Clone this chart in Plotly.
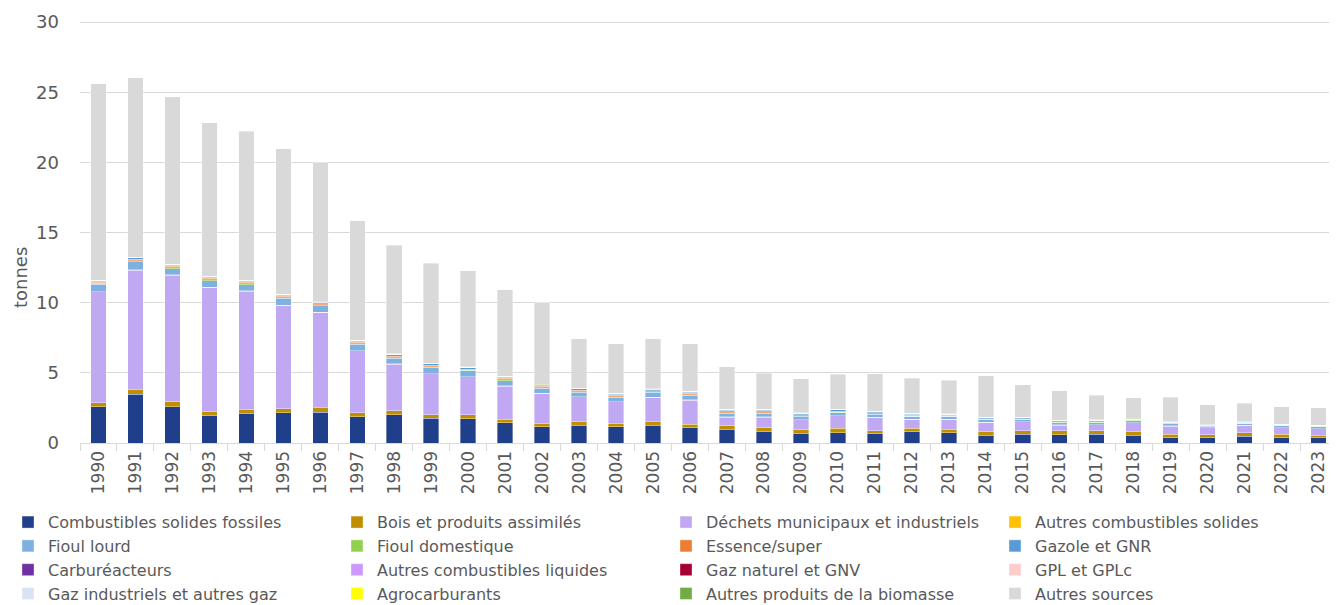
import plotly.graph_objects as go

# Emissions par source (tonnes), 1990-2023
years = [str(y) for y in range(1990, 2024)]

solides_fossiles = [2.59, 3.47, 2.59, 1.95, 2.09, 2.16, 2.19, 1.88, 2.00, 1.76, 1.73, 1.45, 1.16, 1.26, 1.16, 1.26, 1.09,
                    0.97, 0.81, 0.66, 0.73, 0.66, 0.81, 0.73, 0.57, 0.64, 0.59, 0.62, 0.55, 0.38, 0.38, 0.48, 0.38, 0.36]
bois = [0.28, 0.33, 0.36, 0.31, 0.28, 0.29, 0.35, 0.28, 0.30, 0.26, 0.27, 0.24, 0.24, 0.26, 0.24, 0.29, 0.24,
        0.26, 0.28, 0.27, 0.32, 0.22, 0.24, 0.25, 0.24, 0.24, 0.29, 0.26, 0.26, 0.26, 0.21, 0.25, 0.26, 0.21]
dechets = [7.91, 8.53, 9.02, 8.84, 8.46, 7.36, 6.77, 4.40, 3.33, 2.90, 2.73, 2.37, 2.14, 1.78, 1.54, 1.71, 1.73,
           0.62, 0.76, 0.71, 0.90, 0.95, 0.64, 0.71, 0.67, 0.62, 0.40, 0.42, 0.64, 0.57, 0.48, 0.53, 0.45, 0.45]
autres_solides = [0.01, 0.01, 0.01, 0.01, 0.01, 0.01, 0.01, 0.01, 0.01, 0.01, 0.01, 0.01, 0.01, 0.01, 0.01, 0.01, 0.01,
                  0.01, 0.01, 0.01, 0.01, 0.01, 0.01, 0.01, 0.01, 0.01, 0.01, 0.01, 0.01, 0.01, 0.0, 0.0, 0.0, 0.0]
fioul_lourd = [0.53, 0.59, 0.45, 0.47, 0.45, 0.48, 0.48, 0.47, 0.40, 0.48, 0.40, 0.38, 0.36, 0.31, 0.32, 0.33, 0.34,
               0.26, 0.26, 0.24, 0.21, 0.21, 0.19, 0.19, 0.16, 0.14, 0.17, 0.15, 0.14, 0.14, 0.14, 0.14, 0.14, 0.14]
fioul_dom = [0.05, 0.05, 0.05, 0.05, 0.05, 0.05, 0.04, 0.04, 0.05, 0.04, 0.04, 0.05, 0.04, 0.04, 0.04, 0.04, 0.04,
             0.04, 0.04, 0.04, 0.03, 0.03, 0.03, 0.03, 0.03, 0.03, 0.02, 0.03, 0.02, 0.02, 0.01, 0.02, 0.02, 0.02]
essence = [0.10, 0.12, 0.11, 0.11, 0.11, 0.10, 0.10, 0.09, 0.10, 0.09, 0.09, 0.10, 0.08, 0.09, 0.08, 0.08, 0.08,
           0.08, 0.08, 0.07, 0.07, 0.06, 0.06, 0.05, 0.05, 0.05, 0.04, 0.04, 0.03, 0.03, 0.02, 0.02, 0.02, 0.02]
gazole = [0.07, 0.09, 0.09, 0.09, 0.09, 0.09, 0.09, 0.09, 0.10, 0.10, 0.09, 0.10, 0.09, 0.10, 0.09, 0.09, 0.10,
          0.10, 0.10, 0.09, 0.09, 0.08, 0.08, 0.06, 0.06, 0.06, 0.06, 0.07, 0.05, 0.05, 0.03, 0.04, 0.04, 0.04]
carbureacteurs = [0.02, 0.02, 0.02, 0.02, 0.02, 0.02, 0.02, 0.02, 0.02, 0.02, 0.02, 0.02, 0.02, 0.02, 0.02, 0.02, 0.02,
                  0.02, 0.02, 0.02, 0.02, 0.02, 0.02, 0.01, 0.01, 0.01, 0.01, 0.01, 0.01, 0.01, 0.01, 0.01, 0.01, 0.01]
autres_liquides = [0.01, 0.01, 0.01, 0.01, 0.01, 0.01, 0.01, 0.01, 0.01, 0.01, 0.01, 0.01, 0.01, 0.01, 0.01, 0.01, 0.01,
                   0.01, 0.01, 0.01, 0.01, 0.01, 0.01, 0.01, 0.01, 0.01, 0.01, 0.01, 0.01, 0.01, 0.01, 0.01, 0.01, 0.01]
gaz_naturel = [0.01, 0.01, 0.01, 0.01, 0.01, 0.01, 0.01, 0.01, 0.01, 0.01, 0.01, 0.01, 0.01, 0.01, 0.01, 0.01, 0.01,
               0.01, 0.01, 0.01, 0.01, 0.01, 0.01, 0.01, 0.01, 0.01, 0.01, 0.01, 0.01, 0.01, 0.01, 0.01, 0.01, 0.01]
gpl = [0.005, 0.005, 0.005, 0.005, 0.005, 0.005, 0.005, 0.005, 0.005, 0.005, 0.005, 0.005, 0.005, 0.005, 0.005, 0.005, 0.005,
       0.005, 0.005, 0.005, 0.005, 0.005, 0.005, 0.005, 0.005, 0.005, 0.005, 0.005, 0.005, 0.005, 0.005, 0.005, 0.005, 0.005]
gaz_industriels = [0.005, 0.005, 0.005, 0.005, 0.005, 0.005, 0.005, 0.005, 0.005, 0.005, 0.005, 0.005, 0.005, 0.005, 0.005, 0.005, 0.005,
                   0.005, 0.005, 0.005, 0.005, 0.005, 0.005, 0.005, 0.005, 0.005, 0.005, 0.005, 0.005, 0.005, 0.005, 0.005, 0.005, 0.005]
agrocarburants = [0.0, 0.0, 0.0, 0.0, 0.0, 0.0, 0.0, 0.0, 0.0, 0.0, 0.0, 0.0, 0.0, 0.0, 0.0, 0.0, 0.0,
                  0.0, 0.0, 0.0, 0.0, 0.0, 0.0, 0.0, 0.0, 0.0, 0.0, 0.0, 0.0, 0.0, 0.0, 0.0, 0.0, 0.0]
autres_biomasse = [0.01, 0.01, 0.01, 0.01, 0.01, 0.01, 0.01, 0.01, 0.01, 0.01, 0.01, 0.01, 0.01, 0.01, 0.01, 0.01, 0.01,
                   0.01, 0.01, 0.01, 0.01, 0.01, 0.01, 0.01, 0.01, 0.01, 0.01, 0.01, 0.01, 0.01, 0.0, 0.0, 0.0, 0.0]
autres_sources = [14.00, 12.77, 11.94, 10.95, 10.63, 10.38, 9.90, 8.51, 7.76, 7.12, 6.86, 6.15, 5.85, 3.51, 3.54, 3.55, 3.39,
                  3.03, 2.58, 2.44, 2.48, 2.67, 2.49, 2.38, 2.97, 2.32, 2.08, 1.76, 1.47, 1.75, 1.40, 1.33, 1.25, 1.22]

series = [
    ("Combustibles solides fossiles", solides_fossiles, "#203F8A"),
    ("Bois et produits assimilés", bois, "#BF8F00"),
    ("Déchets municipaux et industriels", dechets, "#C0A9F2"),
    ("Autres combustibles solides", autres_solides, "#FFC000"),
    ("Fioul lourd", fioul_lourd, "#7EB0E0"),
    ("Fioul domestique", fioul_dom, "#92D050"),
    ("Essence/super", essence, "#ED7D31"),
    ("Gazole et GNR", gazole, "#5B9BD5"),
    ("Carburéacteurs", carbureacteurs, "#7030A0"),
    ("Autres combustibles liquides", autres_liquides, "#CC99FF"),
    ("Gaz naturel et GNV", gaz_naturel, "#A50034"),
    ("GPL et GPLc", gpl, "#FFCCCC"),
    ("Gaz industriels et autres gaz", gaz_industriels, "#DAE3F3"),
    ("Agrocarburants", agrocarburants, "#FFFF00"),
    ("Autres produits de la biomasse", autres_biomasse, "#70AD47"),
    ("Autres sources", autres_sources, "#D9D9D9"),
]

fig = go.Figure()
for name, vals, col in series:
    fig.add_trace(go.Bar(x=years, y=vals, name=name, marker_color=col,
                         marker_line_width=0.6, marker_line_color="rgba(255,255,255,0.6)"))

# the page body has an 8px margin, so the figure is a little smaller than the window
grey = "#595959"
fnt = "DejaVu Sans, Liberation Sans, Arial"
fig.update_layout(
    barmode="stack",
    bargap=0.58,
    width=1329, height=597,
    margin=dict(l=72, r=0, t=12, b=162, autoexpand=False),
    plot_bgcolor="white", paper_bgcolor="white",
    font=dict(family=fnt, size=17, color=grey),
    yaxis=dict(range=[0, 30.15], tickvals=[0, 5, 10, 15, 20, 25, 30], showgrid=True,
               gridcolor="#D9D9D9", gridwidth=1.3,
               zeroline=False, ticks="", tickfont=dict(size=18, color=grey),
               ticklabelstandoff=20, automargin=False),
    xaxis=dict(tickangle=-90, tickfont=dict(size=17, color=grey), showline=True, automargin=False,
               linecolor="#D9D9D9", linewidth=1.3, ticks="outside", ticklen=7, tickcolor="#D9D9D9",
               tickson="boundaries"),
    legend=dict(orientation="h", x=-72 / 1257, xanchor="left", y=-0.147, yanchor="top",
                entrywidth=284, tracegroupgap=0, traceorder="normal",
                font=dict(size=16, color=grey)),
    annotations=[dict(text="tonnes", textangle=-90, xref="paper", yref="paper",
                      x=-60 / 1257, y=0.39, xanchor="center", yanchor="middle", showarrow=False,
                      font=dict(family=fnt, size=18, color=grey))],
)
fig.write_html("out.html")
